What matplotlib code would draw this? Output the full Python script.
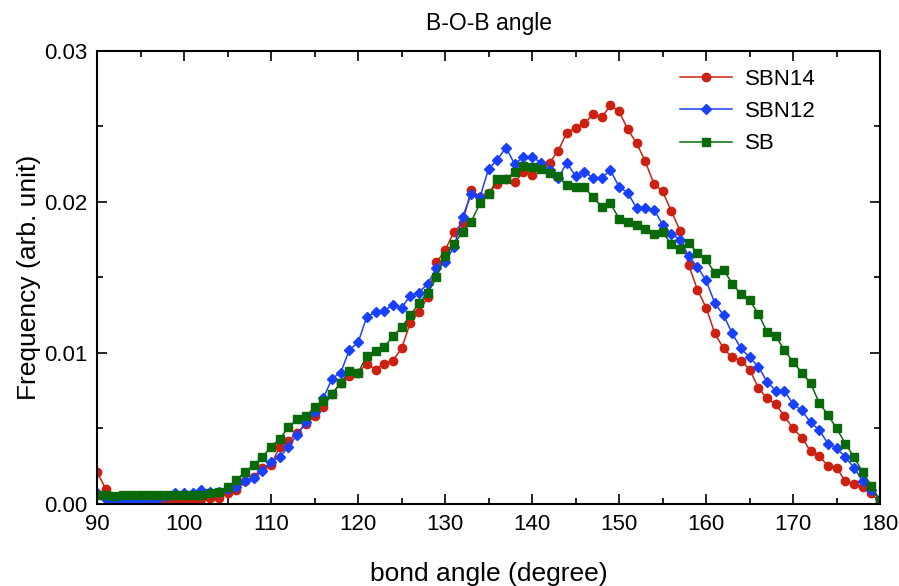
import matplotlib.pyplot as plt
import numpy as np
from matplotlib.ticker import MultipleLocator

plt.rcParams['font.family'] = ['Liberation Sans', 'DejaVu Sans']

# bond angle, one point per degree
angle = np.arange(90, 181)

sbn14 = [0.0021, 0.0010, 0.0003, 0.0001, 0.0000, 0.0000, 0.0000, 0.0001, 0.0001, 0.0001,
         0.0002, 0.0002, 0.0003, 0.0004, 0.0004, 0.0007, 0.0009, 0.0015, 0.0018, 0.0024,
         0.0026, 0.0038, 0.0042, 0.0047, 0.0053, 0.0058, 0.0064, 0.0073, 0.0080, 0.0085,
         0.0087, 0.0093, 0.0089, 0.0093, 0.0095, 0.0103, 0.0120, 0.0127, 0.0137, 0.0160,
         0.0168, 0.0180, 0.0186, 0.0208, 0.0203, 0.0206, 0.0212, 0.0215, 0.0213, 0.0220,
         0.0218, 0.0223, 0.0226, 0.0234, 0.0246, 0.0249, 0.0252, 0.0258, 0.0256, 0.0264,
         0.0260, 0.0248, 0.0239, 0.0227, 0.0212, 0.0207, 0.0194, 0.0181, 0.0158, 0.0142,
         0.0130, 0.0113, 0.0103, 0.0097, 0.0095, 0.0089, 0.0077, 0.0070, 0.0066, 0.0058,
         0.0050, 0.0044, 0.0035, 0.0032, 0.0025, 0.0024, 0.0015, 0.0013, 0.0011, 0.0007,
         0.0001]

sbn12 = [0.0007, 0.0003, 0.0001, 0.0001, 0.0002, 0.0002, 0.0002, 0.0003, 0.0005, 0.0007,
         0.0007, 0.0007, 0.0009, 0.0008, 0.0008, 0.0010, 0.0011, 0.0015, 0.0017, 0.0022,
         0.0028, 0.0031, 0.0038, 0.0046, 0.0054, 0.0061, 0.0070, 0.0083, 0.0087, 0.0102,
         0.0107, 0.0124, 0.0127, 0.0128, 0.0132, 0.0130, 0.0138, 0.0140, 0.0146, 0.0156,
         0.0160, 0.0170, 0.0190, 0.0205, 0.0203, 0.0222, 0.0228, 0.0236, 0.0225, 0.0230,
         0.0230, 0.0226, 0.0221, 0.0216, 0.0226, 0.0217, 0.0220, 0.0216, 0.0216, 0.0221,
         0.0210, 0.0206, 0.0196, 0.0196, 0.0195, 0.0185, 0.0179, 0.0175, 0.0164, 0.0157,
         0.0148, 0.0133, 0.0125, 0.0113, 0.0103, 0.0097, 0.0091, 0.0081, 0.0075, 0.0075,
         0.0066, 0.0062, 0.0054, 0.0049, 0.0040, 0.0037, 0.0031, 0.0024, 0.0015, 0.0009,
         0.0003]

sb = [0.0006, 0.0006, 0.0005, 0.0006, 0.0006, 0.0006, 0.0006, 0.0006, 0.0006, 0.0006,
      0.0006, 0.0006, 0.0006, 0.0007, 0.0008, 0.0011, 0.0016, 0.0021, 0.0026, 0.0031,
      0.0038, 0.0043, 0.0051, 0.0056, 0.0058, 0.0064, 0.0068, 0.0073, 0.0080, 0.0088,
      0.0087, 0.0098, 0.0101, 0.0104, 0.0111, 0.0117, 0.0125, 0.0133, 0.0140, 0.0150,
      0.0164, 0.0172, 0.0180, 0.0187, 0.0199, 0.0205, 0.0215, 0.0215, 0.0220, 0.0224,
      0.0223, 0.0222, 0.0219, 0.0217, 0.0211, 0.0210, 0.0210, 0.0203, 0.0197, 0.0199,
      0.0189, 0.0187, 0.0185, 0.0182, 0.0179, 0.0180, 0.0172, 0.0169, 0.0173, 0.0166,
      0.0162, 0.0153, 0.0155, 0.0146, 0.0139, 0.0135, 0.0126, 0.0114, 0.0111, 0.0102,
      0.0094, 0.0087, 0.0080, 0.0067, 0.0059, 0.0050, 0.0040, 0.0031, 0.0021, 0.0012,
      0.0002]

fig = plt.figure(figsize=(8.99, 5.86), dpi=100)
ax = fig.add_axes([0.108, 0.140, 0.871, 0.773])

ax.plot(angle, sbn14, color='#cc2010', marker='o', markersize=6, lw=1.1, label='SBN14')
ax.plot(angle, sbn12, color='#1a40ff', marker='D', markersize=5.5, lw=1.1, label='SBN12')
ax.plot(angle, sb, color='#0a6a0a', marker='s', markersize=6, lw=1.1, label='SB')

ax.set_xlim(90, 180)
ax.set_ylim(0, 0.03)
ax.xaxis.set_major_locator(MultipleLocator(10))
ax.xaxis.set_minor_locator(MultipleLocator(5))
ax.yaxis.set_major_locator(MultipleLocator(0.01))
ax.yaxis.set_minor_locator(MultipleLocator(0.005))
ax.yaxis.set_major_formatter(plt.FormatStrFormatter('%.2f'))
ax.tick_params(which='both', direction='in', top=True, right=True, labelsize=16, width=1.2)
ax.tick_params(which='major', length=7, pad=7)
ax.tick_params(which='minor', length=4)
for s in ax.spines.values():
    s.set_linewidth(1.5)

ax.set_title('B-O-B angle', fontsize=16.5, pad=15)
ax.set_xlabel('bond angle (degree)', fontsize=19, labelpad=20)
ax.set_ylabel('Frequency (arb. unit)', fontsize=19, labelpad=2)

ax.legend(loc='upper left', frameon=False, fontsize=16, handlelength=2.3,
          handletextpad=0.6, borderpad=0, borderaxespad=0, labelspacing=0.5,
          bbox_to_anchor=(0.745, 0.96))

fig.savefig('out.png', dpi=100)
